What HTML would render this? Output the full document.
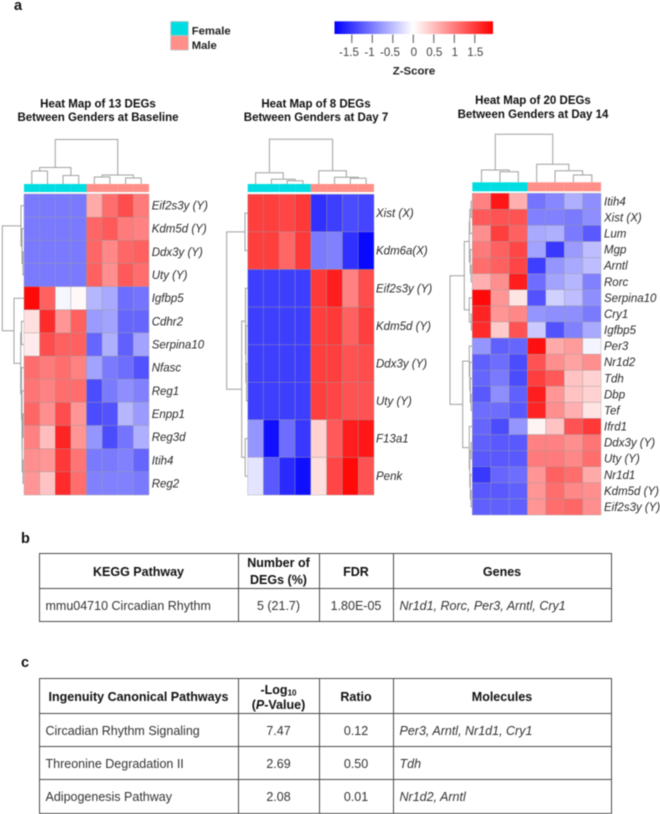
<!DOCTYPE html>
<html lang="en">
<head>
<meta charset="utf-8">
<title>Heat maps of DEGs between genders</title>
<style>
html,body{margin:0;padding:0;background:#fff;}
#page{position:relative;width:660px;height:814px;overflow:hidden;background:#fff;font-family:"Liberation Sans",Arial,sans-serif;color:#222;filter:blur(0.45px);}
#chart{position:absolute;left:0;top:0;}
.panel{position:absolute;font-weight:bold;font-size:14.5px;color:#111;line-height:14px;}
table{position:absolute;left:38.5px;width:572px;table-layout:fixed;border-collapse:collapse;font-size:12.5px;color:#333;}
td,th{border:1.4px solid #4a4a4a;padding:2px 0 0 0;text-align:center;vertical-align:middle;line-height:16px;overflow:hidden;white-space:nowrap;}
th{font-weight:bold;color:#111;}
th.two{line-height:16.7px;padding-top:1px;}
th.log{line-height:15px;padding-top:3px;}
td.l{text-align:left;padding-left:6px;}
td.i{font-style:italic;}
th i{font-style:italic;}
sub{font-size:8px;line-height:0;vertical-align:-1.5px;}
</style>
</head>
<body>
<div id="page">
<svg id="chart" width="660" height="540" viewBox="0 0 660 540" xmlns="http://www.w3.org/2000/svg">
  <defs>
    <linearGradient id="zgrad" x1="0" x2="1" y1="0" y2="0">
      <stop offset="0" stop-color="#0000ff"/>
      <stop offset="0.496" stop-color="#ffffff"/>
      <stop offset="1" stop-color="#ff0000"/>
    </linearGradient>
  </defs>
  <rect x="170.7" y="21.5" width="17.6" height="14.2" fill="#00dde2" stroke="#c4c4c4" stroke-width="0.8"/>
  <rect x="170.7" y="35.7" width="17.6" height="14.3" fill="#ff8f88" stroke="#c4c4c4" stroke-width="0.8"/>
  <text x="191.7" y="34.4" font-size="11.3" font-weight="bold" fill="#222">Female</text>
  <text x="191.7" y="48.8" font-size="11.3" font-weight="bold" fill="#222">Male</text>
  <rect x="334.5" y="21.3" width="158.5" height="12.7" fill="url(#zgrad)"/>
  <text x="414" y="74.5" font-size="11.4" font-weight="bold" fill="#222" text-anchor="middle">Z-Score</text>
  <g id="colorbar-ticks"></g>

  <g font-size="11.5" font-weight="bold" fill="#111" text-anchor="middle">
    <text x="98" y="107.5">Heat Map of 13 DEGs</text>
    <text x="98" y="121">Between Genders at Baseline</text>
    <text x="316" y="107.5">Heat Map of 8 DEGs</text>
    <text x="316" y="121">Between Genders at Day 7</text>
    <text x="533" y="104">Heat Map of 20 DEGs</text>
    <text x="533" y="118">Between Genders at Day 14</text>
  </g>
  <g id="heatmaps"></g>
</svg>

<div class="panel" style="left:14px;top:-1px;">a</div>
<div class="panel" style="left:21px;top:532px;">b</div>
<div class="panel" style="left:21px;top:656px;">c</div>

<table style="top:553px;">
  <colgroup><col style="width:199px"><col style="width:81px"><col style="width:74px"><col style="width:218px"></colgroup>
  <tr style="height:35px">
    <th>KEGG Pathway</th>
    <th class="two">Number of<br>DEGs (%)</th>
    <th>FDR</th>
    <th>Genes</th>
  </tr>
  <tr style="height:33px">
    <td class="l">mmu04710 Circadian Rhythm</td>
    <td>5 (21.7)</td>
    <td>1.80E-05</td>
    <td class="l i">Nr1d1, Rorc, Per3, Arntl, Cry1</td>
  </tr>
</table>

<table style="top:678px;">
  <colgroup><col style="width:199px"><col style="width:81px"><col style="width:74px"><col style="width:218px"></colgroup>
  <tr style="height:35px">
    <th>Ingenuity Canonical Pathways</th>
    <th class="log">-Log<sub>10</sub><br>(<i>P</i>-Value)</th>
    <th>Ratio</th>
    <th>Molecules</th>
  </tr>
  <tr style="height:33px">
    <td class="l">Circadian Rhythm Signaling</td>
    <td>7.47</td>
    <td>0.12</td>
    <td class="l i">Per3, Arntl, Nr1d1, Cry1</td>
  </tr>
  <tr style="height:33px">
    <td class="l">Threonine Degradation II</td>
    <td>2.69</td>
    <td>0.50</td>
    <td class="l i">Tdh</td>
  </tr>
  <tr style="height:33.5px">
    <td class="l">Adipogenesis Pathway</td>
    <td>2.08</td>
    <td>0.01</td>
    <td class="l i">Nr1d2, Arntl</td>
  </tr>
</table>
</div>

<script>
var colorbarTicks = [-1.5, -1, -0.5, 0, 0.5, 1, 1.5];
var colorbarTickLabels = ['-1.5', '-1', '-0.5', '0', '0.5', '1', '1.5'];

var baselineGenes = ['Eif2s3y (Y)', 'Kdm5d (Y)', 'Ddx3y (Y)', 'Uty (Y)', 'Igfbp5', 'Cdhr2', 'Serpina10', 'Nfasc', 'Reg1', 'Enpp1', 'Reg3d', 'Itih4', 'Reg2'];
var baselineGroups = ['F', 'F', 'F', 'F', 'M', 'M', 'M', 'M'];
var baselineValues = [
  [-1, -1, -1, -1, 0.65, 1.1, 1.35, 1],
  [-1, -1, -1, -1, 1.15, 1.25, 1, 0.95],
  [-1, -1, -1, -1, 1.15, 0.9, 1.15, 1.2],
  [-1, -1, -1, -1, 1.2, 0.85, 1.25, 1.1],
  [1.85, 1.2, -0.07, 0.05, -0.55, -0.65, -1.1, -1.05],
  [0.25, 1.6, 0.8, 1.2, -0.75, -0.7, -1.15, -1.15],
  [0.15, 1.35, 1.2, 1.2, -1.15, -0.6, -1.2, -0.7],
  [1.1, 1, 1.1, 0.95, -0.7, -1, -1.1, -1.3],
  [1.05, 0.95, 1.1, 1.1, -1.35, -1, -0.85, -0.95],
  [1.15, 0.85, 1.35, 0.8, -1.35, -1.3, -0.55, -0.75],
  [0.95, 0.5, 1.65, 0.8, -0.8, -1.35, -1.05, -0.6],
  [0.85, 0.8, 1.5, 1.05, -1, -1, -0.95, -1.15],
  [0.8, 0.45, 1.6, 1.1, -0.95, -0.95, -0.95, -1]
];
/* dendrogram merges: [distance, child, child]; a plain number is a leaf index */
var baselineColTree = [44.5, [16.5, [13, 0, 1], [8.5, 2, 3]], [9, [7, 4, 5], [6, 6, 7]]];
var baselineRowTree = [21.7, [3, 0, [2, 1, [1, 2, 3]]], [10, 4, [3.3, [2.5, 5, 6], [2.5, 7, [2, 8, [1.8, [1, 9, 10], [1, 11, 12]]]]]]];

var day7Genes = ['Xist (X)', 'Kdm6a(X)', 'Eif2s3y (Y)', 'Kdm5d (Y)', 'Ddx3y (Y)', 'Uty (Y)', 'F13a1', 'Penk'];
var day7Groups = ['F', 'F', 'F', 'F', 'M', 'M', 'M', 'M'];
var day7Values = [
  [1.45, 1.45, 1.4, 1.5, -1.55, -1.45, -1.35, -1.4],
  [1.45, 1.45, 1.15, 1.5, -1, -0.95, -1.55, -1.85],
  [-1.45, -1.45, -1.45, -1.45, 1.5, 1.7, 0.95, 1.35],
  [-1.45, -1.45, -1.45, -1.45, 1.45, 1.5, 1.2, 1.45],
  [-1.45, -1.45, -1.45, -1.45, 1.45, 1.45, 1.3, 1.35],
  [-1.45, -1.45, -1.45, -1.45, 1.45, 1.4, 1.3, 1.3],
  [-0.8, -1.8, -1.1, -1.5, 0.35, 1.25, 1.7, 1.75],
  [-0.2, -1.25, -1.6, -1.8, 0.25, 1.4, 1.85, 1.3]
];
var day7ColTree = [44.7, [11.3, 0, [4.7, 1, [3.3, 2, 3]]], [13.3, 4, [6.7, 5, [5.7, 6, 7]]]];
var day7RowTree = [21, [2.7, 0, 1], [6, [2.2, 2, [1.8, 3, [1.2, 4, 5]]], [2.5, 6, 7]]];

var day14Genes = ['Itih4', 'Xist (X)', 'Lum', 'Mgp', 'Arntl', 'Rorc', 'Serpina10', 'Cry1', 'Igfbp5', 'Per3', 'Nr1d2', 'Tdh', 'Dbp', 'Tef', 'Ifrd1', 'Ddx3y (Y)', 'Uty (Y)', 'Nr1d1', 'Kdm5d (Y)', 'Eif2s3y (Y)'];
var day14Groups = ['F', 'F', 'F', 'M', 'M', 'M', 'M'];
var day14Values = [
  [0.95, 1.75, 0.6, -1.05, -0.9, -0.6, -0.85],
  [1.25, 1.3, 1.3, -0.95, -0.95, -1, -0.85],
  [0.85, 1.45, 1.2, -0.65, -0.6, -1, -1.25],
  [1, 1.2, 1.4, -0.7, -1.5, -0.75, -0.5],
  [1.1, 1.2, 1.4, -1.45, -0.8, -0.65, -0.5],
  [0.6, 0.85, 1.7, -1.1, -0.7, -0.55, -0.95],
  [1.85, 0.8, 0.2, -1.3, -0.35, -0.5, -0.85],
  [1.65, 0.8, 0.9, -0.8, -0.85, -0.85, -1],
  [1.6, 0.4, 1.3, -0.4, -1.3, -0.95, -0.65],
  [-0.8, -1.2, -1.15, 1.8, 0.65, 0.75, -0.08],
  [-1.2, -1.1, -1.35, 1.3, 0.85, 0.7, 0.85],
  [-1.15, -1, -1.35, 1.45, 1.25, 0.45, 0.35],
  [-1.25, -0.85, -1.2, 1.7, 0.8, 0.45, 0.35],
  [-1.1, -1.1, -1.25, 1.65, 0.85, 0.6, 0.2],
  [-1.15, -1.35, -0.8, 0.08, 0.45, 1.3, 1.5],
  [-1.2, -1.25, -1.25, 0.95, 0.95, 0.85, 1.05],
  [-1.25, -1.25, -1.25, 1, 1, 0.9, 1.1],
  [-1.5, -1.15, -1.1, 0.8, 1.2, 1.1, 0.65],
  [-1.25, -1.25, -1.2, 0.8, 1.1, 0.9, 0.85],
  [-1.2, -1.2, -1.2, 0.8, 1.1, 1.15, 0.85]
];
var day14ColTree = [48, [12.3, 0, [10.6, 1, 2]], [18, 3, [11.6, 4, [7.3, 5, 6]]]];
var day14RowTree = [22.3, [8, [3, [2.5, [1.2, 0, 1], 2], [2, 3, [1.2, 4, 5]]], [3, 6, [1, 7, 8]]], [9.6, [3, 9, [2.5, 10, [2, 11, [1.2, 12, 13]]]], [3, 14, [2.5, [1.2, 15, 16], [2, 17, [1.2, 18, 19]]]]]];

var NS = 'http://www.w3.org/2000/svg';
var ZMAX = 1.92;
var CBAR_ZERO = 413.3;
var CBAR_PER_UNIT = 41;

function zColor(z) {
  var t = Math.min(1, Math.abs(z) / ZMAX);
  var c = Math.round(255 * (1 - t));
  return z >= 0 ? 'rgb(255,' + c + ',' + c + ')' : 'rgb(' + c + ',' + c + ',255)';
}
function cbarX(v) {
  return CBAR_ZERO + v * CBAR_PER_UNIT;
}
function svgEl(tag, attrs, parent) {
  var el = document.createElementNS(NS, tag);
  for (var k in attrs) el.setAttribute(k, attrs[k]);
  parent.appendChild(el);
  return el;
}

function drawColorbar() {
  var g = document.getElementById('colorbar-ticks');
  colorbarTicks.forEach(function (v, i) {
    var x = cbarX(v);
    var tick = svgEl('line', { x1: x, x2: x, y1: 34.5, y2: 43, stroke: '#555', 'stroke-width': 1 }, g);
    
    
    var label = svgEl('text', { x: x + (v < 0 ? -2.8 : 0.5), y: 56, 'font-size': 11.6, fill: '#444', 'text-anchor': 'middle' }, g);
    label.textContent = colorbarTickLabels[i];
    
    
  });
}

/* walks a merge tree and draws elbows; orient 'top' grows upward, 'left' grows leftward */
function drawTree(node, center, base, orient, parent) {
  if (typeof node === 'number') return { p: center(node), h: 0 };
  var a = drawTree(node[1], center, base, orient, parent);
  var b = drawTree(node[2], center, base, orient, parent);
  var h = node[0];
  var d;
  if (orient === 'top') {
    d = 'M' + a.p + ' ' + (base - a.h) + 'V' + (base - h) + 'H' + b.p + 'V' + (base - b.h);
  } else {
    d = 'M' + (base - a.h) + ' ' + a.p + 'H' + (base - h) + 'V' + b.p + 'H' + (base - b.h);
  }
  var path = svgEl('path', { d: d, fill: 'none', stroke: '#a0a0a0', 'stroke-width': 1 }, parent);
  
  
  return { p: (a.p + b.p) / 2, h: h };
}

function drawHeatmap(p) {
  var root = document.getElementById('heatmaps');
  var g = svgEl('g', {}, root);
  
  
  var nRows = p.values.length;
  var nCols = p.groups.length;
  var cw = p.w / nCols;
  var rh = p.h / nRows;
  function xOf(c) { return p.x + c * cw; }
  function yOf(r) { return p.y + r * rh; }

  p.groups.forEach(function (grp, c) {
    var bar = svgEl('rect', { x: xOf(c), y: p.annY, width: cw, height: p.annH, fill: grp === 'F' ? '#00dde2' : '#ff8f88' }, g);
    
    
  });

  p.values.forEach(function (row, r) {
    row.forEach(function (z, c) {
      var cell = svgEl('rect', { x: xOf(c), y: yOf(r), width: cw, height: rh, fill: zColor(z), stroke: '#9a9a9a', 'stroke-width': 0.35 }, g);
      
      
    });
    var label = svgEl('text', { x: p.labelX, y: yOf(r) + rh / 2 + 4, 'font-size': 11.5, 'font-style': 'italic', fill: '#2a2a2a' }, g);
    label.textContent = p.genes[r];
    
    
  });

  drawTree(p.colTree, function (c) { return xOf(c) + cw / 2; }, p.annY, 'top', g);
  drawTree(p.rowTree, function (r) { return yOf(r) + rh / 2; }, p.x, 'left', g);
}

drawColorbar();
drawHeatmap({ name: 'heatmap-baseline', x: 24, y: 194, w: 125, h: 301, annY: 184, annH: 8, labelX: 151.7, genes: baselineGenes, groups: baselineGroups, values: baselineValues, colTree: baselineColTree, rowTree: baselineRowTree });
drawHeatmap({ name: 'heatmap-day-7', x: 247.7, y: 194.3, w: 126.3, h: 300.7, annY: 184, annH: 8, labelX: 376, genes: day7Genes, groups: day7Groups, values: day7Values, colTree: day7ColTree, rowTree: day7RowTree });
drawHeatmap({ name: 'heatmap-day-14', x: 472.3, y: 193.3, w: 128.7, h: 321.7, annY: 182.3, annH: 9, labelX: 604, genes: day14Genes, groups: day14Groups, values: day14Values, colTree: day14ColTree, rowTree: day14RowTree });
</script>
</body>
</html>
